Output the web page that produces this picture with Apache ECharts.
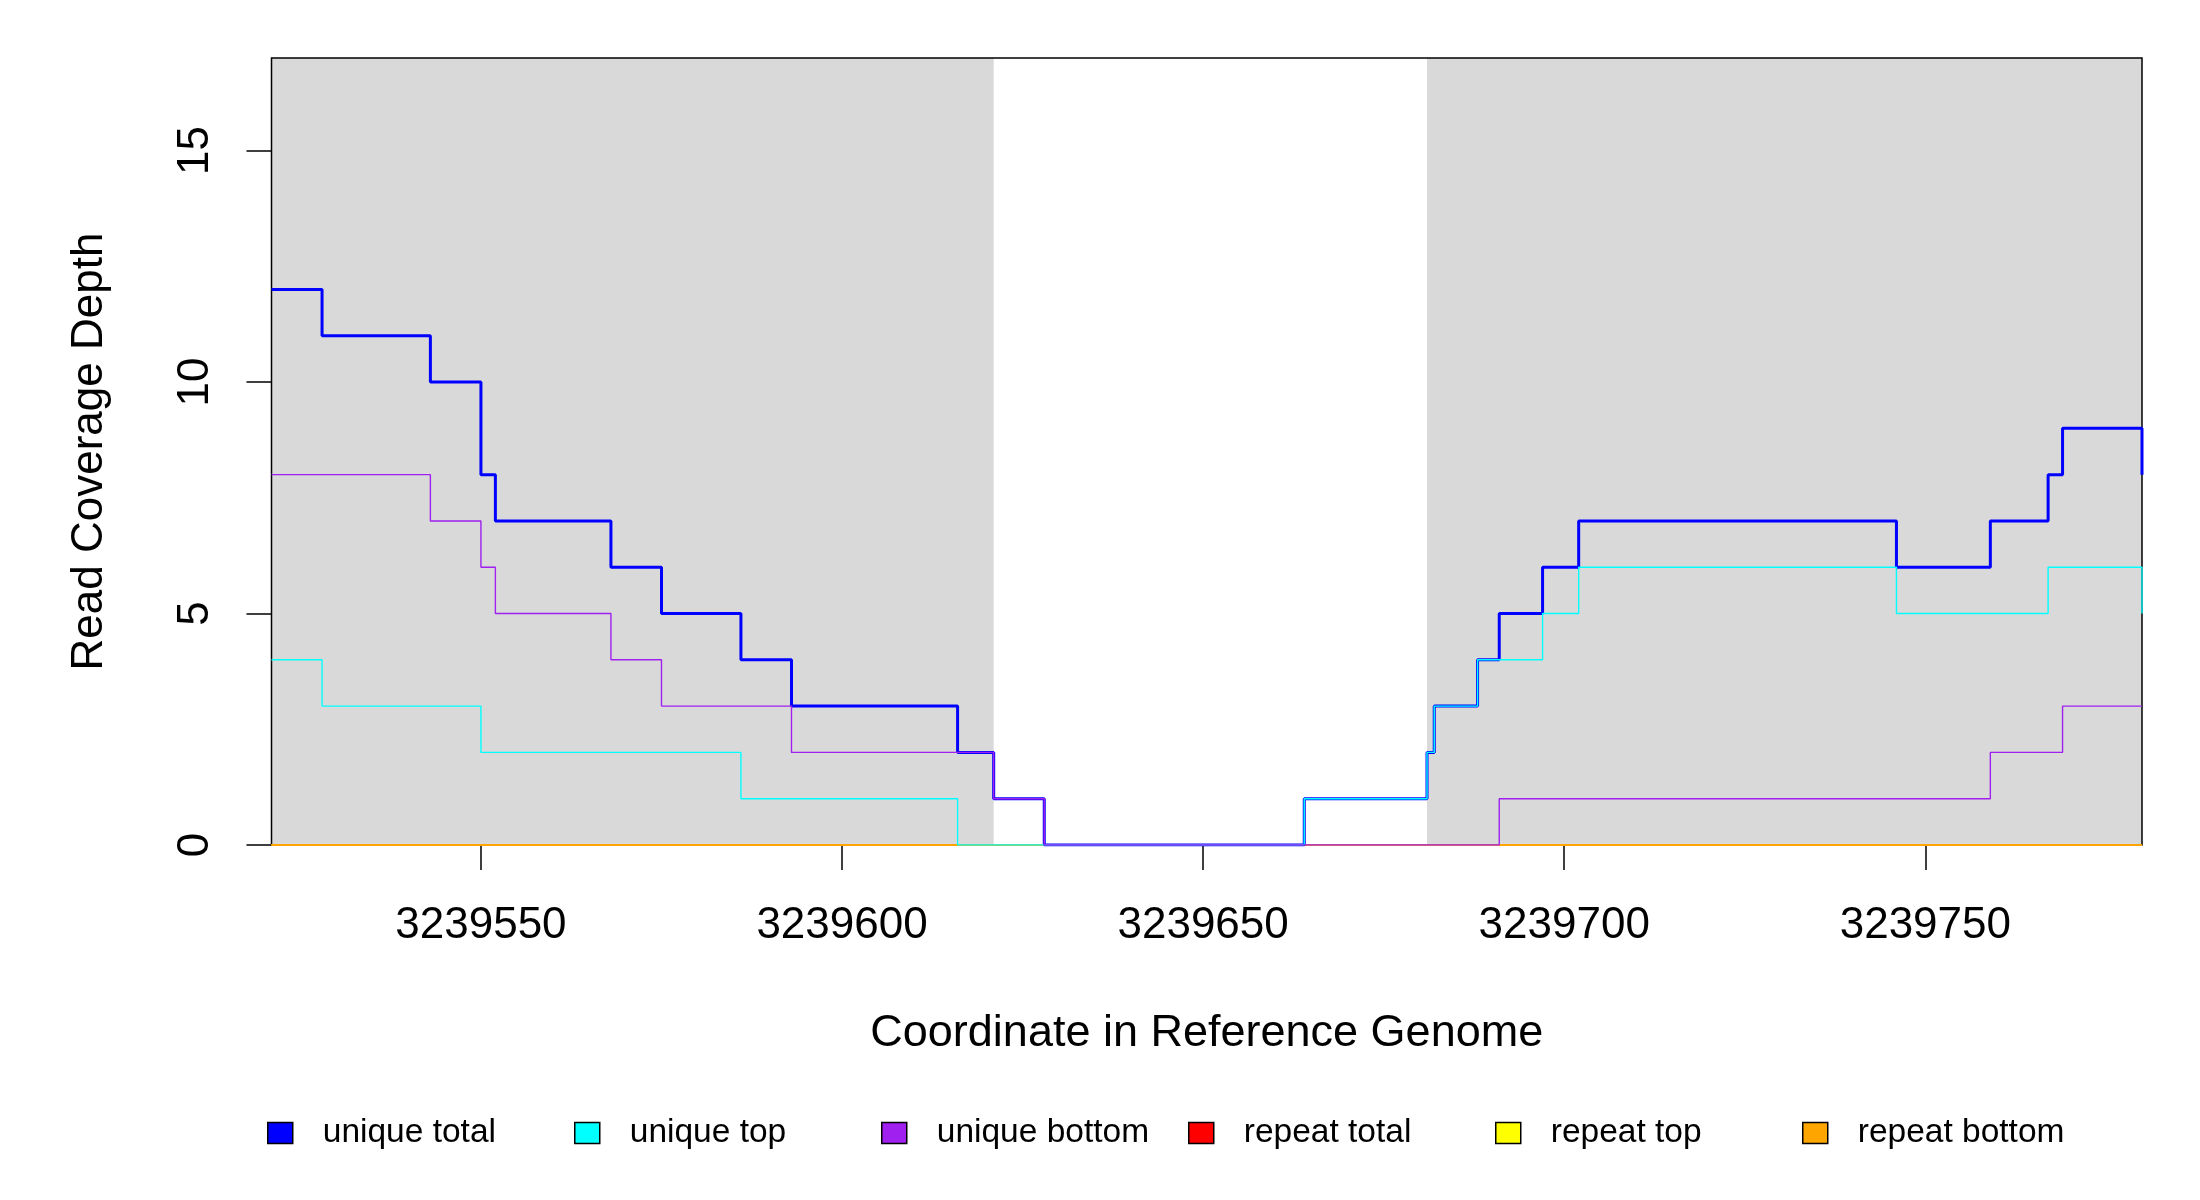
<!DOCTYPE html>
<html>
<head>
<meta charset="utf-8">
<script src="https://cdn.jsdelivr.net/npm/echarts@6/dist/echarts.min.js"></script>
<style>
html, body { margin: 0; padding: 0; background: #fff; }
#chart { width: 2200px; height: 1200px; }
</style>
</head>
<body>
<div id="chart"></div>
<script>
// step breakpoints (start of each segment), last one is the right end
var positions = [3239521, 3239528, 3239543, 3239550, 3239552, 3239568, 3239575, 3239586,
	3239593, 3239616, 3239621, 3239628, 3239664, 3239681, 3239682, 3239688,
	3239691, 3239697, 3239702, 3239746, 3239759, 3239767, 3239769, 3239780];
var uniqueTotal  = [12, 11, 10, 8, 7, 6, 5, 4, 3, 2, 1, 0, 1, 2, 3, 4, 5, 6, 7, 6, 7, 8, 9, 8];
var uniqueTop    = [4, 3, 3, 2, 2, 2, 2, 1, 1, 0, 0, 0, 1, 2, 3, 4, 4, 5, 6, 5, 5, 6, 6, 5];
var uniqueBottom = [8, 8, 7, 6, 5, 4, 3, 3, 2, 2, 1, 0, 0, 0, 0, 0, 1, 1, 1, 1, 2, 2, 3, 3];
var repeatTotal  = [0, 0, 0, 0, 0, 0, 0, 0, 0, 0, 0, 0, 0, 0, 0, 0, 0, 0, 0, 0, 0, 0, 0, 0];
var repeatTop    = [0, 0, 0, 0, 0, 0, 0, 0, 0, 0, 0, 0, 0, 0, 0, 0, 0, 0, 0, 0, 0, 0, 0, 0];
var repeatBottom = [0, 0, 0, 0, 0, 0, 0, 0, 0, 0, 0, 0, 0, 0, 0, 0, 0, 0, 0, 0, 0, 0, 0, 0];

var shadedRegions = [[3239521, 3239621], [3239681, 3239780]];
var xTicks = [3239550, 3239600, 3239650, 3239700, 3239750];
var yTicks = [0, 5, 10, 15];
var xRange = [3239521, 3239780];
var yRange = [0, 17];

var legendNames = ['unique total', 'unique top', 'unique bottom', 'repeat total', 'repeat top', 'repeat bottom'];
var legendColors = ['#0000ff', '#00ffff', '#a020f0', '#ff0000', '#ffff00', '#ffa500'];

var font = "'Liberation Sans', Arial, sans-serif";

function pairs(values) {
	return positions.map(function(x, i) { return [x, values[i]]; });
}

function stepLine(name, values, color, width) {
	return {
		name: name,
		type: 'line',
		step: 'end',
		z: 20,
		data: pairs(values),
		showSymbol: false,
		symbol: 'none',
		silent: true,
		color: color,
		lineStyle: { color: color, width: width },
		emphasis: { disabled: true }
	};
}

var chart = echarts.init(document.getElementById('chart'));

var legends = legendNames.map(function(name, i) {
	return {
		data: [{ name: name, icon: 'rect', itemStyle: { color: legendColors[i], borderColor: '#000', borderWidth: 1.5 } }],
		left: 267 + i * 307,
		top: 1115,
		padding: 0,
		itemWidth: 25,
		itemHeight: 21,
		selectedMode: false,
		textStyle: { fontFamily: font, fontSize: 33.5, color: '#000', lineHeight: 36, padding: [0, 0, 0, 25] }
	};
});

var option = {
	animation: false,
	backgroundColor: '#fff',
	legend: legends,
	grid: {
		left: 271.5,
		right: 58,
		top: 58,
		bottom: 355,
		show: true,
		z: 10,
		backgroundColor: 'transparent',
		borderColor: '#000',
		borderWidth: 1.5,
		outerBoundsMode: 'none'
	},
	xAxis: {
		type: 'value',
		min: xRange[0],
		max: xRange[1],
		name: 'Coordinate in Reference Genome',
		nameLocation: 'middle',
		nameGap: 166,
		nameTextStyle: { fontFamily: font, fontSize: 45, color: '#000' },
		splitLine: { show: false },
		axisLine: { show: false },
		axisTick: { show: true, inside: false, length: 25, customValues: xTicks, lineStyle: { color: '#000', width: 1.5 } },
		axisLabel: { customValues: xTicks, margin: 59, fontFamily: font, fontSize: 44, color: '#000',
			formatter: function(v) { return String(v); } }
	},
	yAxis: {
		type: 'value',
		min: yRange[0],
		max: yRange[1],
		name: 'Read Coverage Depth',
		nameLocation: 'middle',
		nameRotate: 90,
		nameGap: 160,
		nameTextStyle: { fontFamily: font, fontSize: 44, color: '#000' },
		splitLine: { show: false },
		axisLine: { show: false },
		axisTick: { show: true, inside: false, length: 25, customValues: yTicks, lineStyle: { color: '#000', width: 1.5 } },
		axisLabel: { customValues: yTicks, rotate: 90, margin: 54, fontFamily: font, fontSize: 44, color: '#000' }
	},
	series: [
		{
			name: 'shade',
			type: 'line',
			z: 1,
			data: [],
			silent: true,
			markArea: {
				silent: true,
				itemStyle: { color: '#d9d9d9' },
				data: shadedRegions.map(function(r) { return [{ xAxis: r[0] }, { xAxis: r[1] }]; })
			}
		},
		stepLine('repeat total', repeatTotal, legendColors[3], 2),
		stepLine('repeat top', repeatTop, legendColors[4], 2),
		stepLine('repeat bottom', repeatBottom, legendColors[5], 2),
		stepLine('unique total', uniqueTotal, legendColors[0], 3),
		stepLine('unique top', uniqueTop, legendColors[1], 1.4),
		stepLine('unique bottom', uniqueBottom, legendColors[2], 1.4)
	]
};

chart.setOption(option);
</script>
</body>
</html>
